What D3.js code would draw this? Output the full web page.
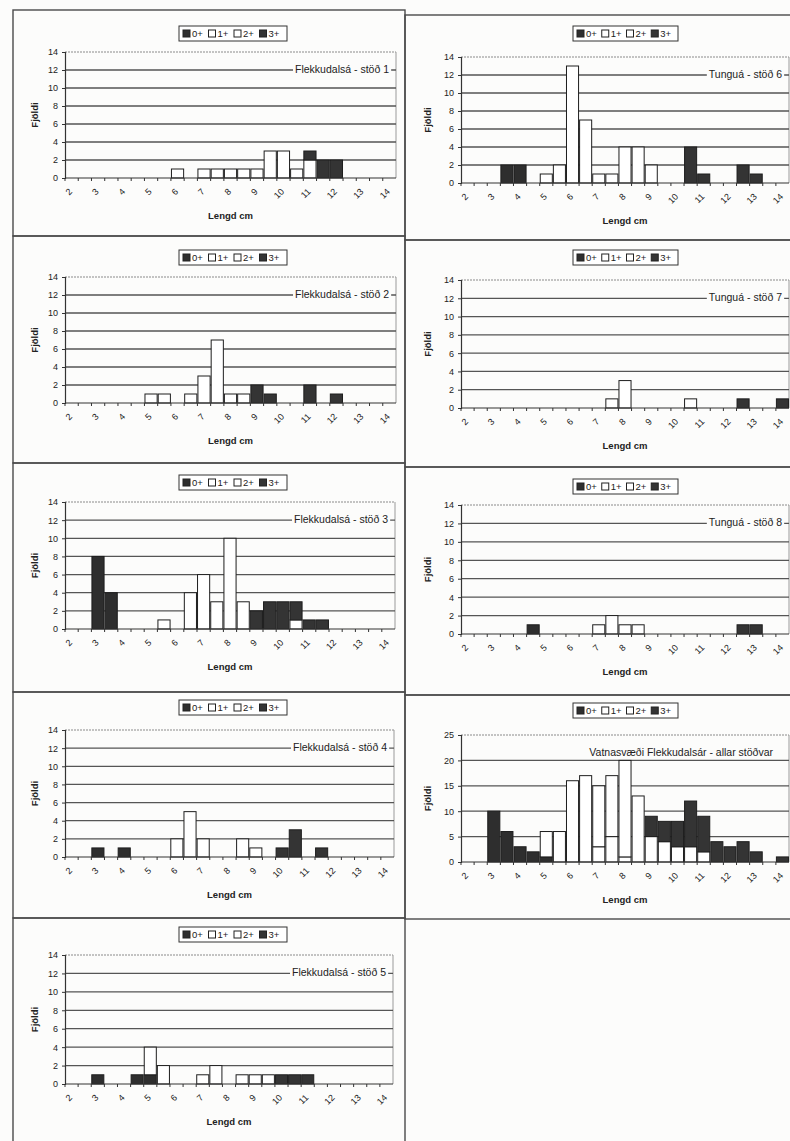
<!DOCTYPE html>
<html>
<head>
<meta charset="utf-8">
<script src="https://cdn.jsdelivr.net/npm/d3@7"></script>
<style>
  body { margin: 0; background: #fcfcfb; }
  svg { display: block; }
  text { font-family: "Liberation Sans", Arial, sans-serif; fill: #222; }
</style>
</head>
<body>
<svg id="chart" width="790" height="1141"></svg>
<script>
// length classes (cm), 0.5 cm bins
const lengths = [2, 2.5, 3, 3.5, 4, 4.5, 5, 5.5, 6, 6.5, 7, 7.5, 8, 8.5, 9, 9.5, 10, 10.5, 11, 11.5, 12, 12.5, 13, 13.5, 14];
const tickLengths = [2, 3, 4, 5, 6, 7, 8, 9, 10, 11, 12, 13, 14];
const ageGroups = ['0+', '1+', '2+', '3+'];

// Flekkudalsá - stöð 1
const st1_0 = [0,0,0,0,0,0,0,0,0,0,0,0,0,0,0,0,0,0,0,0,0,0,0,0,0];
const st1_1 = [0,0,0,0,0,0,0,0,1,0,0,0,0,0,0,0,0,0,0,0,0,0,0,0,0];
const st1_2 = [0,0,0,0,0,0,0,0,0,0,1,1,1,1,1,3,3,1,2,0,0,0,0,0,0];
const st1_3 = [0,0,0,0,0,0,0,0,0,0,0,0,0,0,0,0,0,0,1,2,2,0,0,0,0];
// Flekkudalsá - stöð 2
const st2_0 = [0,0,0,0,0,0,0,0,0,0,0,0,0,0,0,0,0,0,0,0,0,0,0,0,0];
const st2_1 = [0,0,0,0,0,0,1,1,0,1,3,0,0,0,0,0,0,0,0,0,0,0,0,0,0];
const st2_2 = [0,0,0,0,0,0,0,0,0,0,0,7,1,1,0,0,0,0,0,0,0,0,0,0,0];
const st2_3 = [0,0,0,0,0,0,0,0,0,0,0,0,0,0,2,1,0,0,2,0,1,0,0,0,0];
// Flekkudalsá - stöð 3
const st3_0 = [0,0,8,4,0,0,0,0,0,0,0,0,0,0,0,0,0,0,0,0,0,0,0,0,0];
const st3_1 = [0,0,0,0,0,0,0,1,0,4,0,0,0,0,0,0,0,0,0,0,0,0,0,0,0];
const st3_2 = [0,0,0,0,0,0,0,0,0,0,6,3,10,3,0,0,0,1,0,0,0,0,0,0,0];
const st3_3 = [0,0,0,0,0,0,0,0,0,0,0,0,0,0,2,3,3,2,1,1,0,0,0,0,0];
// Flekkudalsá - stöð 4
const st4_0 = [0,0,1,0,1,0,0,0,0,0,0,0,0,0,0,0,0,0,0,0,0,0,0,0,0];
const st4_1 = [0,0,0,0,0,0,0,0,2,5,0,0,0,0,0,0,0,0,0,0,0,0,0,0,0];
const st4_2 = [0,0,0,0,0,0,0,0,0,0,2,0,0,2,1,0,0,0,0,0,0,0,0,0,0];
const st4_3 = [0,0,0,0,0,0,0,0,0,0,0,0,0,0,0,0,1,3,0,1,0,0,0,0,0];
// Flekkudalsá - stöð 5
const st5_0 = [0,0,1,0,0,1,1,0,0,0,0,0,0,0,0,0,0,0,0,0,0,0,0,0,0];
const st5_1 = [0,0,0,0,0,0,3,2,0,0,0,2,0,0,0,0,0,0,0,0,0,0,0,0,0];
const st5_2 = [0,0,0,0,0,0,0,0,0,0,1,0,0,1,1,1,0,0,0,0,0,0,0,0,0];
const st5_3 = [0,0,0,0,0,0,0,0,0,0,0,0,0,0,0,0,1,1,1,0,0,0,0,0,0];
// Tunguá - stöð 6
const st6_0 = [0,0,0,2,2,0,0,0,0,0,0,0,0,0,0,0,0,0,0,0,0,0,0,0,0];
const st6_1 = [0,0,0,0,0,0,1,2,13,7,0,1,0,0,0,0,0,0,0,0,0,0,0,0,0];
const st6_2 = [0,0,0,0,0,0,0,0,0,0,1,0,4,4,2,0,0,0,0,0,0,0,0,0,0];
const st6_3 = [0,0,0,0,0,0,0,0,0,0,0,0,0,0,0,0,0,4,1,0,0,2,1,0,0];
// Tunguá - stöð 7
const st7_0 = [0,0,0,0,0,0,0,0,0,0,0,0,0,0,0,0,0,0,0,0,0,0,0,0,0];
const st7_1 = [0,0,0,0,0,0,0,0,0,0,0,0,0,0,0,0,0,0,0,0,0,0,0,0,0];
const st7_2 = [0,0,0,0,0,0,0,0,0,0,0,1,3,0,0,0,0,1,0,0,0,0,0,0,0];
const st7_3 = [0,0,0,0,0,0,0,0,0,0,0,0,0,0,0,0,0,0,0,0,0,1,0,0,1];
// Tunguá - stöð 8
const st8_0 = [0,0,0,0,0,1,0,0,0,0,0,0,0,0,0,0,0,0,0,0,0,0,0,0,0];
const st8_1 = [0,0,0,0,0,0,0,0,0,0,0,2,1,0,0,0,0,0,0,0,0,0,0,0,0];
const st8_2 = [0,0,0,0,0,0,0,0,0,0,1,0,0,1,0,0,0,0,0,0,0,0,0,0,0];
const st8_3 = [0,0,0,0,0,0,0,0,0,0,0,0,0,0,0,0,0,0,0,0,0,1,1,0,0];
// Vatnasvæði Flekkudalsár - allar stöðvar
const all_0 = [0,0,10,6,3,2,1,0,0,0,0,0,0,0,0,0,0,0,0,0,0,0,0,0,0];
const all_1 = [0,0,0,0,0,0,5,6,16,17,3,5,1,0,0,0,0,0,0,0,0,0,0,0,0];
const all_2 = [0,0,0,0,0,0,0,0,0,0,12,12,19,13,5,4,3,3,2,0,0,0,0,0,0];
const all_3 = [0,0,0,0,0,0,0,0,0,0,0,0,0,0,4,4,5,9,7,4,3,4,2,0,1];

const fills = { '0+': '#2e2e2e', '1+': '#ffffff', '2+': '#ffffff', '3+': '#343434' };

// layout: box = panel frame, plot = [left, top, right, bottom]
const panels = [
  { title: 'Flekkudalsá - stöð 1', data: [st1_0, st1_1, st1_2, st1_3], box: [13, 10, 392, 226], plot: [65, 52, 396, 178], legend: [179, 26, 108], yLabX: 35 },
  { title: 'Flekkudalsá - stöð 2', data: [st2_0, st2_1, st2_2, st2_3], box: [13, 236, 392, 227], plot: [65, 277, 396, 403], legend: [179, 250, 108], yLabX: 35 },
  { title: 'Flekkudalsá - stöð 3', data: [st3_0, st3_1, st3_2, st3_3], box: [13, 463, 392, 229], plot: [65, 502, 395, 629], legend: [179, 475, 108], yLabX: 35 },
  { title: 'Flekkudalsá - stöð 4', data: [st4_0, st4_1, st4_2, st4_3], box: [13, 692, 392, 226], plot: [65, 730, 394, 857], legend: [179, 700, 108], yLabX: 35 },
  { title: 'Flekkudalsá - stöð 5', data: [st5_0, st5_1, st5_2, st5_3], box: [13, 918, 392, 240], plot: [65, 955, 393, 1084], legend: [179, 927, 108], yLabX: 35 },
  { title: 'Tunguá - stöð 6', data: [st6_0, st6_1, st6_2, st6_3], box: [405, 15, 400, 225], plot: [461, 57, 789, 183], legend: [573, 26, 105], yLabX: 428 },
  { title: 'Tunguá - stöð 7', data: [st7_0, st7_1, st7_2, st7_3], box: [405, 240, 400, 227], plot: [461, 280, 789, 408], legend: [573, 250, 105], yLabX: 428 },
  { title: 'Tunguá - stöð 8', data: [st8_0, st8_1, st8_2, st8_3], box: [405, 467, 400, 228], plot: [461, 505, 789, 634], legend: [573, 479, 105], yLabX: 428 },
  { title: 'Vatnasvæði Flekkudalsár - allar stöðvar', data: [all_0, all_1, all_2, all_3], box: [405, 695, 400, 224], plot: [461, 735, 789, 862], legend: [573, 703, 105], yLabX: 428, yMax: 25, yStep: 5, titleInset: 16 }
];

const svg = d3.select('#chart');

function drawPanel(p) {
  const [px0, py0, px1, py1] = p.plot;
  const yMax = p.yMax || 14;
  const yStep = p.yStep || 2;
  const g = svg.append('g');

  // panel frame
  g.append('rect')
    .attr('x', p.box[0]).attr('y', p.box[1])
    .attr('width', p.box[2]).attr('height', p.box[3])
    .attr('fill', 'none').attr('stroke', '#4a4a4a').attr('stroke-width', 1.4);

  const x = d3.scaleBand().domain(lengths).range([px0, px1]).paddingInner(0.08).paddingOuter(0.04);
  const y = d3.scaleLinear().domain([0, yMax]).range([py1, py0]);

  // plot area border (top dotted, right light)
  g.append('line').attr('x1', px0).attr('x2', px1).attr('y1', py0).attr('y2', py0)
    .attr('stroke', '#8a8a8a').attr('stroke-width', 1).attr('stroke-dasharray', '2,1');
  g.append('line').attr('x1', px1).attr('x2', px1).attr('y1', py0).attr('y2', py1)
    .attr('stroke', '#9a9a9a').attr('stroke-width', 1);

  // gridlines
  const yTicks = d3.range(0, yMax + 0.001, yStep);
  g.append('g').selectAll('line').data(yTicks.filter(v => v > 0 && v < yMax)).join('line')
    .attr('x1', px0).attr('x2', px1).attr('y1', d => y(d)).attr('y2', d => y(d))
    .attr('stroke', '#555').attr('stroke-width', 1.3);

  // stacked bars
  const rows = lengths.map((l, i) => {
    const r = { len: l };
    ageGroups.forEach((a, k) => { r[a] = p.data[k][i]; });
    return r;
  });
  const stacked = d3.stack().keys(ageGroups)(rows);
  g.append('g').selectAll('g').data(stacked).join('g')
    .attr('fill', d => fills[d.key])
    .selectAll('rect').data(d => d.filter(s => s[1] - s[0] > 0)).join('rect')
    .attr('x', d => x(d.data.len))
    .attr('width', x.bandwidth())
    .attr('y', d => y(d[1]))
    .attr('height', d => y(d[0]) - y(d[1]))
    .attr('stroke', '#1e1e1e').attr('stroke-width', 1);

  // y axis
  const yAxis = g.append('g').attr('transform', `translate(${px0},0)`)
    .call(d3.axisLeft(y).tickValues(yTicks).tickSize(3).tickPadding(4));
  yAxis.select('.domain').attr('stroke', '#333').attr('stroke-width', 1.2);
  yAxis.selectAll('.tick line').attr('stroke', '#333');
  yAxis.selectAll('text').style('font-size', '9px').attr('fill', '#222');

  // x axis line and category ticks
  g.append('line').attr('x1', px0).attr('x2', px1).attr('y1', py1).attr('y2', py1)
    .attr('stroke', '#333').attr('stroke-width', 1.2);
  const step = x.step();
  g.append('g').selectAll('line').data(lengths).join('line')
    .attr('x1', d => x(d) - step * x.paddingInner() / 2)
    .attr('x2', d => x(d) - step * x.paddingInner() / 2)
    .attr('y1', py1).attr('y2', py1 + 3)
    .attr('stroke', '#333');

  // rotated tick labels on whole cm
  g.append('g').selectAll('text').data(tickLengths).join('text')
    .attr('transform', d => `translate(${x(d) + x.bandwidth() / 2 - 1},${py1 + 12}) rotate(-45)`)
    .attr('text-anchor', 'end')
    .attr('dy', '0.35em')
    .style('font-size', '9px')
    .text(d => d);

  // axis titles
  g.append('text')
    .attr('transform', `translate(${p.yLabX},${(py0 + py1) / 2}) rotate(-90)`)
    .attr('text-anchor', 'middle').attr('dy', '0.35em')
    .style('font-size', '9.5px').style('font-weight', 'bold')
    .text('Fjöldi');
  g.append('text')
    .attr('x', (px0 + px1) / 2).attr('y', py1 + 38)
    .attr('text-anchor', 'middle').attr('dy', '0.35em')
    .style('font-size', '9.5px').style('font-weight', 'bold')
    .text('Lengd cm');

  // station title, on a white patch that covers the gridline
  const title = g.append('text')
    .attr('x', px1 - (p.titleInset || 7)).attr('y', py0 + 17)
    .attr('text-anchor', 'end').attr('dy', '0.35em')
    .style('font-size', '10.5px')
    .text(p.title);
  const bb = title.node().getBBox();
  g.insert('rect', () => title.node())
    .attr('x', bb.x - 2).attr('y', bb.y)
    .attr('width', bb.width + 4).attr('height', bb.height)
    .attr('fill', '#fcfcfb');

  // legend
  const [lx, ly, lw] = p.legend;
  const lg = g.append('g').attr('transform', `translate(${lx},${ly})`);
  lg.append('rect').attr('width', lw).attr('height', 15)
    .attr('fill', '#fff').attr('stroke', '#333').attr('stroke-width', 1);
  const item = lg.selectAll('g').data(ageGroups).join('g')
    .attr('transform', (d, i) => `translate(${4 + i * (lw - 6) / 4},0)`);
  item.append('rect').attr('y', 4).attr('width', 7).attr('height', 7)
    .attr('fill', d => fills[d]).attr('stroke', '#222').attr('stroke-width', 1);
  item.append('text').attr('x', 9).attr('y', 7.5).attr('dy', '0.35em')
    .style('font-size', '9.5px').text(d => d);
}

panels.forEach(drawPanel);
</script>
</body>
</html>
